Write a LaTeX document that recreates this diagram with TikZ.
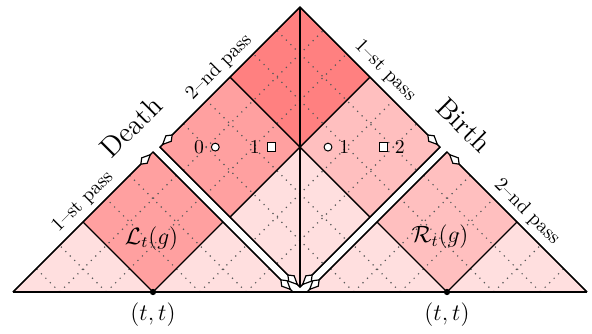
\documentclass[tikz,border=0pt]{standalone}
\usepackage{amsmath,amsfonts}
\usepackage{tikz}
\usetikzlibrary{arrows.meta, positioning}
\definecolor{topred}{RGB}{255, 128, 128}
\definecolor{deathpink}{RGB}{255, 160, 160}
\definecolor{birthpink}{RGB}{255, 191, 191}
\definecolor{palepink}{RGB}{255, 223, 223}

\begin{document}
\begin{tikzpicture}[x=1.25cm, y=1.25cm,
    edge/.style={line width=0.7pt},
    gridline/.style={line width=0.6pt, black!65, dash pattern=on 0.6pt off 2.6pt},
    passtip/.style={line width=0.6pt, shorten >=1.2pt, -{Kite[fill=white, length=8pt, width=4.6pt, inset=3pt]}},
    circmark/.style={circle, draw, fill=white, line width=0.5pt, inner sep=0pt, minimum size=4pt},
    sqmark/.style={rectangle, draw, fill=white, line width=0.5pt, inner sep=0pt, minimum size=4.2pt},
    dot/.style={circle, fill=black, inner sep=0pt, minimum size=3.2pt}]
        \useasboundingbox (-4.2857,-0.5857) rectangle (4.1714,4.1714);
        \coordinate (la) at (-4.1,0);
        \coordinate (lt) at (-2.1,2);
        \coordinate (lb) at (-0.1,0);
        \coordinate (lm) at (-2.1,0);
        \coordinate (ll) at (-3.1,1);
        \coordinate (lr) at (-1.1,1);
        \coordinate (dt) at (0,4.07);
        \coordinate (dl) at (-2,2.07);
        \coordinate (db) at (0,0.07);
        \coordinate (dr) at (2,2.07);
        \coordinate (dc) at (0,2.07);
        \coordinate (dtl) at (-1,3.07);
        \coordinate (dtr) at (1,3.07);
        \coordinate (dbl) at (-1,1.07);
        \coordinate (dbr) at (1,1.07);
        \coordinate (ra) at (0.1,0);
        \coordinate (rt) at (2.1,2);
        \coordinate (rb) at (4.1,0);
        \coordinate (rm) at (2.1,0);
        \coordinate (rl) at (1.1,1);
        \coordinate (rr) at (3.1,1);
        \fill[palepink] (la) -- (lt) -- (lb) -- cycle;
        \fill[deathpink] (lt) -- (ll) -- (lm) -- (lr) -- cycle;
        \fill[topred] (dt) -- (dtl) -- (dc) -- (dtr) -- cycle;
        \fill[deathpink] (dtl) -- (dl) -- (dbl) -- (dc) -- cycle;
        \fill[birthpink] (dtr) -- (dc) -- (dbr) -- (dr) -- cycle;
        \fill[palepink] (dc) -- (dbl) -- (db) -- (dbr) -- cycle;
        \fill[palepink] (ra) -- (rt) -- (rb) -- cycle;
        \fill[birthpink] (rt) -- (rl) -- (rm) -- (rr) -- cycle;
        \begin{scope}
            \clip (la) -- (lt) -- (lb) -- cycle;
            \foreach \k in {1,2,4,5} {
                \draw[gridline] (-4.1+2*\k/3,0) -- ++(3,3);
                \draw[gridline] (-0.1-2*\k/3,0) -- ++(-3,3);
            }
        \end{scope}
        \begin{scope}
            \clip (dt) -- (dl) -- (db) -- (dr) -- cycle;
            \foreach \m in {-2,-1,1,2} {
                \draw[gridline] (-3,2.07+2*\m/3+3) -- ++(6,-6);
                \draw[gridline] (-3,2.07+2*\m/3-3) -- ++(6,6);
            }
        \end{scope}
        \begin{scope}
            \clip (ra) -- (rt) -- (rb) -- cycle;
            \foreach \k in {1,2,4,5} {
                \draw[gridline] (0.1+2*\k/3,0) -- ++(3,3);
                \draw[gridline] (4.1-2*\k/3,0) -- ++(-3,3);
            }
        \end{scope}
        \draw[edge] (ll) -- (lm) -- (lr);
        \draw[edge] (rl) -- (rm) -- (rr);
        \draw[edge] (dtl) -- (dbr);
        \draw[edge] (dtr) -- (dbl);
        \draw[edge] (dt) -- (db);
        \draw[edge] (la) -- (lt) -- (lb);
        \draw[edge] (rb) -- (rt) -- (ra);
        \draw[edge] (dl) -- (dt) -- (dr) -- (db) -- cycle;
        \draw[edge] (la) -- (rb);
        \draw[passtip] (la) -- (lt);
        \draw[passtip] (lt) -- (lb);
        \draw[passtip] (dt) -- (dl);
        \draw[passtip] (dl) -- (db);
        \draw[passtip] (dt) -- (dr);
        \draw[passtip] (dr) -- (db);
        \draw[passtip] (rb) -- (rt);
        \draw[passtip] (rt) -- (ra);
        \node[circmark] (c0) at (-1.21,2.07) {};
        \node[sqmark] (s1) at (-0.41,2.07) {};
        \node[circmark] (c1) at (0.40,2.07) {};
        \node[sqmark] (s2) at (1.19,2.07) {};
        \node[left=0pt of c0] (n0) {0};
        \node[left=0pt of s1] (n1) {1};
        \node[right=0pt of c1] (m1) {1};
        \node[right=0pt of s2] (m2) {2};
        \node[dot] (ldot) at (lm) {};
        \node[dot] (rdot) at (rm) {};
        \node[below=0pt of ldot, font=\large] (ltt) {$(t,t)$};
        \node[below=0pt of rdot, font=\large] (rtt) {$(t,t)$};
        \node[font=\large] (lset) at (-2.12,0.77) {$\mathcal{L}_t(g)$};
        \node[font=\large] (rset) at (2.0,0.79) {$\mathcal{R}_t(g)$};
        \node[rotate=45, font=\Large] (death) at (-2.414,2.357) {Death};
        \node[rotate=-45, font=\Large] (birth) at (2.343,2.386) {Birth};
        \node[rotate=45] (lpass1) at (-3.1,1.286) {1--st pass};
        \node[rotate=45] (lpass2) at (-1.157,3.214) {2--nd pass};
        \node[rotate=-45] (rpass1) at (1.214,3.157) {1--st pass};
        \node[rotate=-45] (rpass2) at (3.243,1.143) {2--nd pass};
    \end{tikzpicture}
\end{document}
